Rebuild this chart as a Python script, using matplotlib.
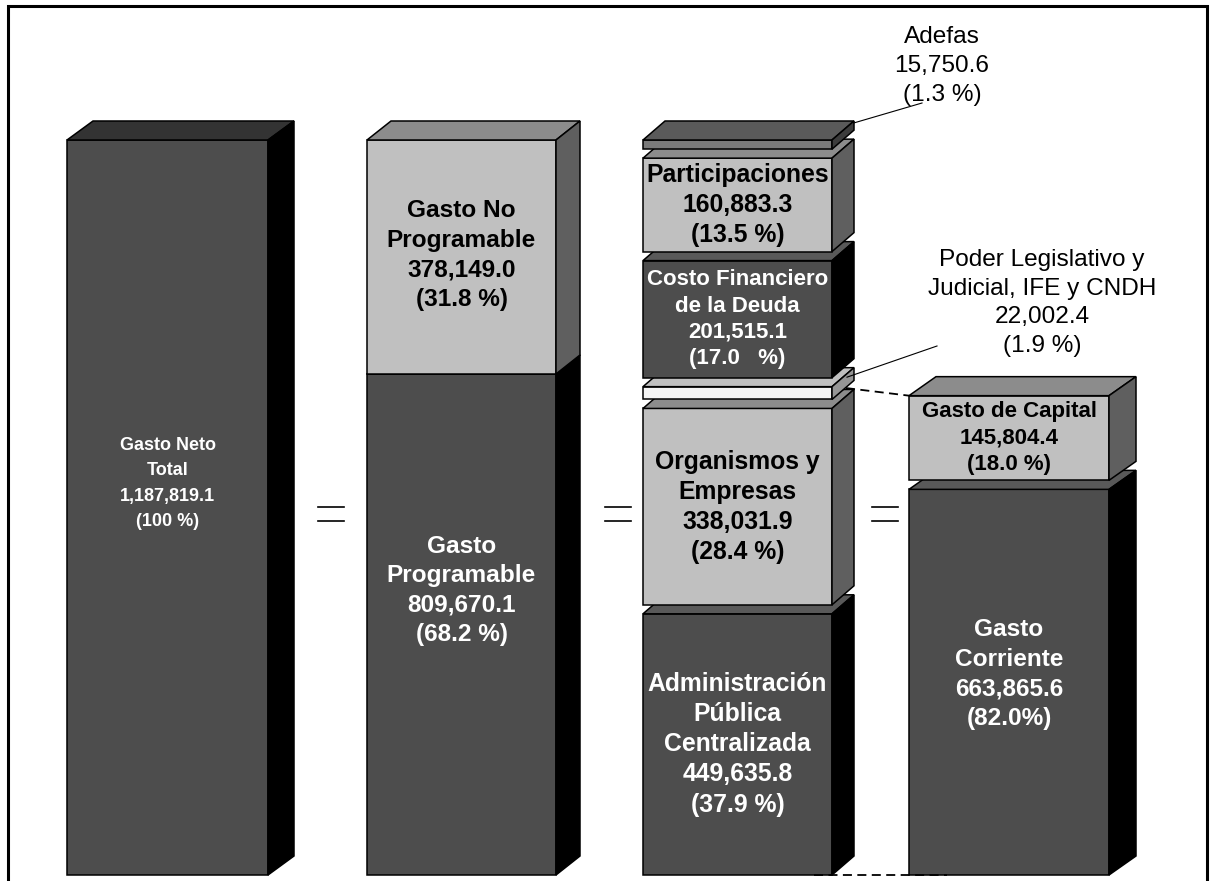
import matplotlib.pyplot as plt
from matplotlib.patches import Polygon, Rectangle

plt.rcParams['font.family'] = ['Liberation Sans', 'DejaVu Sans']

# datos (millones de pesos)
total_name = 'Gasto Neto\nTotal'
total_value = 1187819.1
total_pct = '(100 %)'

prog_names = ['Gasto\nProgramable', 'Gasto No\nProgramable']
prog_values = [809670.1, 378149.0]
prog_pcts = ['(68.2 %)', '(31.8 %)']

ramo_names = ['Administración\nPública\nCentralizada', 'Organismos y\nEmpresas',
              'Poder Legislativo y\nJudicial, IFE y CNDH', 'Costo Financiero\nde la Deuda',
              'Participaciones', 'Adefas']
ramo_values = [449635.8, 338031.9, 22002.4, 201515.1, 160883.3, 15750.6]
ramo_pcts = ['(37.9 %)', '(28.4 %)', '(1.9 %)', '(17.0   %)', '(13.5 %)', '(1.3 %)']

econ_names = ['Gasto\nCorriente', 'Gasto de Capital']
econ_values = [663865.6, 145804.4]
econ_pcts = ['(82.0%)', '(18.0 %)']

# estilos
DARK = ('#4d4d4d', '#000000', '#595959')
DARK1 = ('#4d4d4d', '#000000', '#333333')
LIGHT = ('#c0c0c0', '#5f5f5f', '#8c8c8c')
ADEF = ('#7a7a7a', '#3c3c3c', '#5a5a5a')
PODER = ('#f4f4f4', '#969696', '#c0c0c0')

W, H = 1214, 881
BASE = 875          # pixel de la base de las barras
TOP = 140           # pixel del tope de la barra total
S = total_value / (BASE - TOP)   # valor por pixel
DX, DY = 25, 19 * S
GAP = 9 * S


def py(p):
    # pixel vertical -> unidades de datos
    return (BASE - p) * S


fig = plt.figure(figsize=(W / 100, H / 100), dpi=100)
ax = fig.add_axes([0, 0, 1, 1])
ax.set_xlim(0, W)
ax.set_ylim(py(H), py(0))
ax.axis('off')


def box3d(x0, w, y0, h, colors, dx=DX):
    front, side, top = colors
    kw = dict(edgecolor='black', linewidth=1.1, joinstyle='miter')
    ax.add_patch(Rectangle((x0, y0), w, h, facecolor=front, **kw))
    ax.add_patch(Polygon([(x0, y0 + h), (x0 + dx, y0 + h + DY), (x0 + w + dx, y0 + h + DY),
                          (x0 + w, y0 + h)], closed=True, facecolor=top, **kw))
    ax.add_patch(Polygon([(x0 + w, y0), (x0 + w + dx, y0 + DY), (x0 + w + dx, y0 + h + DY),
                          (x0 + w, y0 + h)], closed=True, facecolor=side, **kw))


def label(x, y, name, value, pct, color, size=16, ls=1.25):
    ax.text(x, y, f"{name}\n{value:,.1f}\n{pct}", ha='center', va='center',
            color=color, fontsize=size, fontweight='bold', linespacing=ls)


# barra 1: gasto neto total
x1, w1 = 67, 201
box3d(x1, w1, 0, total_value, DARK1, dx=26)
label(x1 + w1 / 2, total_value / 2 + 24 * S, total_name, total_value, total_pct, 'white', 13, 1.65)

# barra 2: programable / no programable
x2, w2 = 367, 189
y = 0
for i, (n, v, p) in enumerate(zip(prog_names, prog_values, prog_pcts)):
    box3d(x2, w2, y, v, DARK if i == 0 else LIGHT, dx=24)
    off = 34 * S if i == 0 else 2 * S
    label(x2 + w2 / 2, y + v / 2 + off, n, v, p, 'white' if i == 0 else 'black', 17.6, 1.37)
    y += v

# barra 3: clasificacion administrativa (segmentos separados)
x3, w3 = 643, 189
k = (total_value - 5 * GAP) / total_value
ramo_colors = [DARK, LIGHT, PODER, DARK, LIGHT, ADEF]
seg = []
y = 0
for v, c in zip(ramo_values, ramo_colors):
    h = v * k
    box3d(x3, w3, y, h, c, dx=22)
    seg.append((y, h))
    y += h + GAP

for i in [0, 1, 3, 4]:
    y0, h = seg[i]
    c = 'white' if ramo_colors[i] == DARK else 'black'
    size = 16 if i == 3 else 17.8
    label(x3 + w3 / 2, y0 + h / 2, ramo_names[i], ramo_values[i], ramo_pcts[i], c, size, 1.32)

# barra 4: clasificacion economica
x4, w4 = 909, 200
y = 0
for i, (n, v, p) in enumerate(zip(econ_names, econ_values, econ_pcts)):
    h = v * k
    box3d(x4, w4, y, h, DARK if i == 0 else LIGHT, dx=27)
    off = 8 * S if i == 0 else 0
    label(x4 + w4 / 2, y + h / 2 + off, n, v, p, 'white' if i == 0 else 'black',
          17.6 if i == 0 else 16, 1.38 if i == 0 else 1.33)
    y += h + GAP
top4 = y - GAP

# notas externas
ya, ha_ = seg[5]
ax.text(942, py(66), f"Adefas\n{ramo_values[5]:,.1f}\n{ramo_pcts[5]}", ha='center', va='center',
        fontsize=17.6, linespacing=1.4)
ax.plot([x3 + w3 + 22, 922], [ya + ha_ + DY * 0.9, py(103)], color='black', lw=0.8)

yp, hp = seg[2]
ax.text(1042, py(303), f"Poder Legislativo y\nJudicial, IFE y CNDH\n{ramo_values[2]:,.1f}\n{ramo_pcts[2]}",
        ha='center', va='center', fontsize=17.6, linespacing=1.4)
ax.plot([x3 + w3 + 15, 937], [yp + hp + DY * 0.5, py(346)], color='black', lw=0.8)

# lineas punteadas hacia la barra 4
ax.plot([x3 + w3 + 14, x4], [yp + DY * 0.6, top4], color='black', lw=1.3, ls=(0, (5, 3)))
ax.plot([x3 + w3 - 18, x4 + 38], [0, 0], color='black', lw=1.3, ls=(0, (5, 3)))

# signos de igual
for xe in [331, 618, 885]:
    for dp in [-7, 7]:
        ax.plot([xe - 13, xe + 13], [py(514 + dp)] * 2, color='black', lw=1.2)

# marco
ax.add_patch(Rectangle((8, py(H + 20)), 1199, py(6) - py(H + 20), fill=False,
                       edgecolor='black', linewidth=2.2, clip_on=False))

fig.savefig('out.png', dpi=100)
